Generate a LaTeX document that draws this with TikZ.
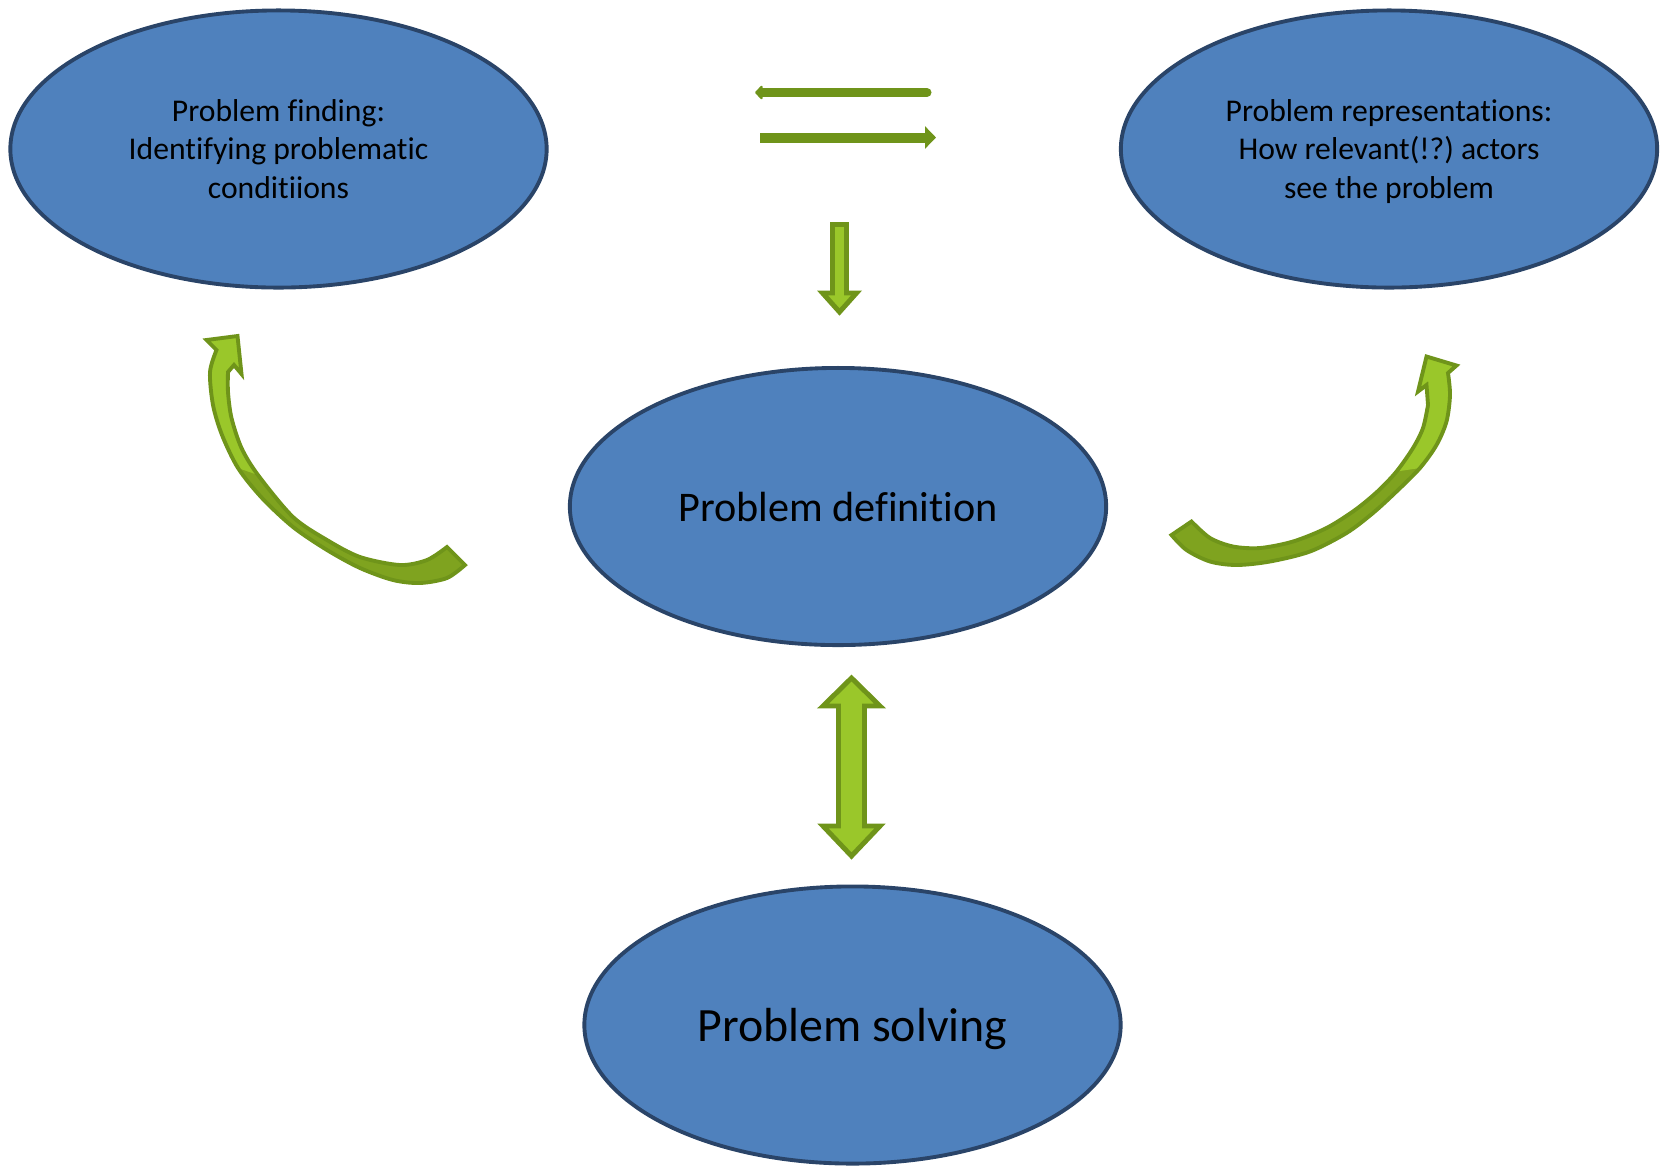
\documentclass[tikz,border=0pt]{standalone}
\usepackage{fontspec}
\setmainfont{Carlito}[Ligatures=NoCommon]
\frenchspacing
\usetikzlibrary{shapes.geometric,arrows.meta}

\definecolor{ovalblue}{HTML}{4F81BD}
\definecolor{ovalline}{HTML}{2A4468}
\definecolor{olivedark}{HTML}{6F941A}
\definecolor{olivemid}{HTML}{7FA31F}
\definecolor{olivelight}{HTML}{9AC72A}

\tikzset{
	oval/.style={ellipse, draw=ovalline, line width=1.1pt, fill=ovalblue,
		minimum width=5.36cm, minimum height=2.77cm, inner sep=0pt, align=center},
	blockarrow/.style={draw=olivedark, fill=olivelight, line width=1.4pt, line join=miter},
	barline/.style={draw=olivedark, line width=0.1cm},
	bendline/.style={draw=olivedark, line width=1.1pt, line join=miter}
}

\begin{document}
\begin{tikzpicture}[x=0.01cm,y=-0.01cm]
	%Units are pixels of the reference, y grows downwards
	\useasboundingbox (0,0) rectangle (1667,1166);

	%Outline of the left bent arrow (tail at the right, head at the top)
	\def\leftbend{(447,547) -- (465,565)
		-- plot[smooth] coordinates {(465,565) (447,578) (420,583) (393,580) (360,568) (327,550) (293,527) (262,498) (238,468) (222,435) (213,405) (210,372) (216.5,350)}
		-- (206.5,340) -- (237.5,336) -- (241.5,374) -- (234,365)
		-- plot[smooth] coordinates {(228,372) (228,392) (231.5,418) (241.5,448) (258,475) (293,517) (327,540) (360,557) (400,565) (427,560) (447,547)}
		-- cycle}
	\def\lefttip{(238,468)
		-- plot[smooth] coordinates {(238,468) (222,435) (213,405) (210,372) (216.5,350)}
		-- (206.5,340) -- (237.5,336) -- (241.5,374) -- (234,365)
		-- plot[smooth] coordinates {(228,372) (228,392) (231.5,418) (241.5,448) (258,475)}
		-- cycle}

	%Outline of the right bent arrow (tail at the left, head at the top)
	\def\rightbend{(1191.5,521.5) -- (1171.5,535)
		-- plot[smooth] coordinates {(1171.5,535) (1186.5,550) (1210,561.5) (1236.5,565) (1270,561.5) (1310,551.5) (1346.5,533) (1373,513) (1396.5,491.5) (1420,468) (1436.5,445) (1446.5,421.5) (1450,395) (1448,373)}
		-- (1456.5,365.5) -- (1426.5,356.5) -- (1418,391.5) -- (1426.5,385)
		-- plot[smooth] coordinates {(1428,405) (1423,428) (1413,448) (1396.5,471.5) (1378,491) (1355,510) (1326.5,528) (1293,541.5) (1260,548) (1233,546.5) (1210,538) (1191.5,521.5)}
		-- cycle}
	\def\righttip{(1420,468)
		-- plot[smooth] coordinates {(1420,468) (1436.5,445) (1446.5,421.5) (1450,395) (1448,373)}
		-- (1456.5,365.5) -- (1426.5,356.5) -- (1418,391.5) -- (1426.5,385)
		-- plot[smooth] coordinates {(1428,405) (1423,428) (1413,448) (1396.5,471.5)}
		-- cycle}

	%The four ovals
	\node[oval, font=\fontsize{9}{10.9}\selectfont] (finding) at (278.5,149)
		{Problem finding:\\Identifying problematic\\conditiions};
	\node[oval, font=\fontsize{9}{10.9}\selectfont] (views) at (1389,149)
		{Problem representations:\\How relevant(!?) actors\\see the \smash{problem}};
	\node[oval, font=\fontsize{12}{14.6}\selectfont] (definition) at (838,506.5) {Problem definition};
	\node[oval, font=\fontsize{13.6}{16.6}\selectfont] (solving) at (852.5,1025) {Problem \smash{solving}};

	%Two thin arrows between the top ovals
	\draw[barline, line width=0.09cm, line cap=round, -{Triangle[width=0.16cm,length=0.08cm,round]}]
		(927,92.5) -- (755,92.5);
	\draw[barline, -{Triangle[width=0.22cm,length=0.11cm]}] (760,137.5) -- (936,137.5);

	%Block arrow down to the definition
	\draw[blockarrow] (832.5,224.5) -- (846.5,224.5) -- (846.5,293) -- (856.5,293)
		-- (839.5,312) -- (822.5,293) -- (832.5,293) -- cycle;

	%Double block arrow between definition and solving
	\draw[blockarrow] (851.5,678) -- (880,706) -- (864.5,706) -- (864.5,826) -- (880,826)
		-- (851.5,856) -- (823,826) -- (838.5,826) -- (838.5,706) -- (823,706) -- cycle;

	%Bent arrows: dark tail, light head, then the outline
	\fill[olivemid] \leftbend;
	\fill[olivelight] \lefttip;
	\draw[bendline] \leftbend;

	\fill[olivemid] \rightbend;
	\fill[olivelight] \righttip;
	\draw[bendline] \rightbend;
\end{tikzpicture}
\end{document}
